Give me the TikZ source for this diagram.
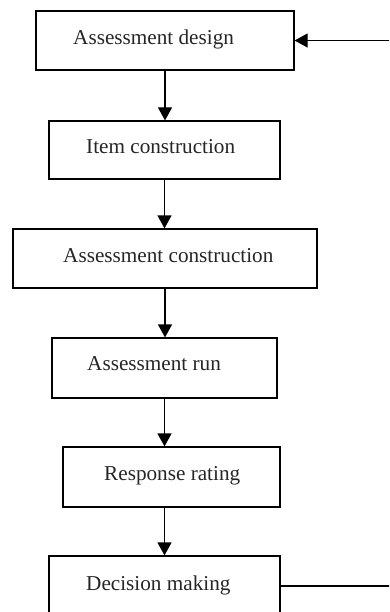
\documentclass[tikz,border=0pt]{standalone}
\usepackage{fontspec}
\setmainfont{Liberation Serif}
\usetikzlibrary{arrows.meta}

\tikzset{
  stagebox/.style={draw=black, line width=1.2pt, inner sep=0pt, fill=white},
  stagelabel/.style={anchor=base west, inner sep=0pt, text=black!85,
    font=\fontsize{21.2}{25}\selectfont},
  flow/.style={line width=1.2pt, -{Triangle[length=13pt,width=14pt]}},
}

\begin{document}
\begin{tikzpicture}[x=1pt, y=-1pt]
  \useasboundingbox (0,0) rectangle (389,612);
  \clip (0,0) rectangle (389,612);

  % process stages
  \node[stagebox, minimum width=258pt, minimum height=59pt] (b1) at (165,40.5) {};
  \node[stagebox, minimum width=231pt, minimum height=58pt] (b2) at (164.5,150) {};
  \node[stagebox, minimum width=304pt, minimum height=59pt] (b3) at (165,258.5) {};
  \node[stagebox, minimum width=225pt, minimum height=60pt] (b4) at (164.5,368) {};
  \node[stagebox, minimum width=217pt, minimum height=60pt] (b5) at (171.5,477) {};
  \node[stagebox, minimum width=231pt, minimum height=60pt] (b6) at (164.5,586) {};

  % stage labels
  \node[stagelabel] (t1) at (73,45) {Assessment design};
  \node[stagelabel] (t2) at (86,153.3) {Item construction};
  \node[stagelabel] (t3) at (63,262.3) {Assessment construction};
  \node[stagelabel] (t4) at (87,370.7) {Assessment run};
  \node[stagelabel] (t5) at (104,480.7) {Response rating};
  \node[stagelabel] (t6) at (86,590.7) {Decision making};

  % main flow
  \draw[flow] (b1.south) -- (b1.south |- b2.north);
  \draw[flow] (b2.south) -- (b2.south |- b3.north);
  \draw[flow] (b3.south) -- (b3.south |- b4.north);
  \draw[flow] (b4.south) -- (b4.south |- b5.north);
  \draw[flow] (b4.south |- b5.south) -- (b4.south |- b6.north);

  % feedback loop back to the design stage
  \coordinate (fbx) at (398,0);
  \draw[flow] (b6.east) -- (b6.east -| fbx) -- (b1.east -| fbx) -- (b1.east);
\end{tikzpicture}
\end{document}
